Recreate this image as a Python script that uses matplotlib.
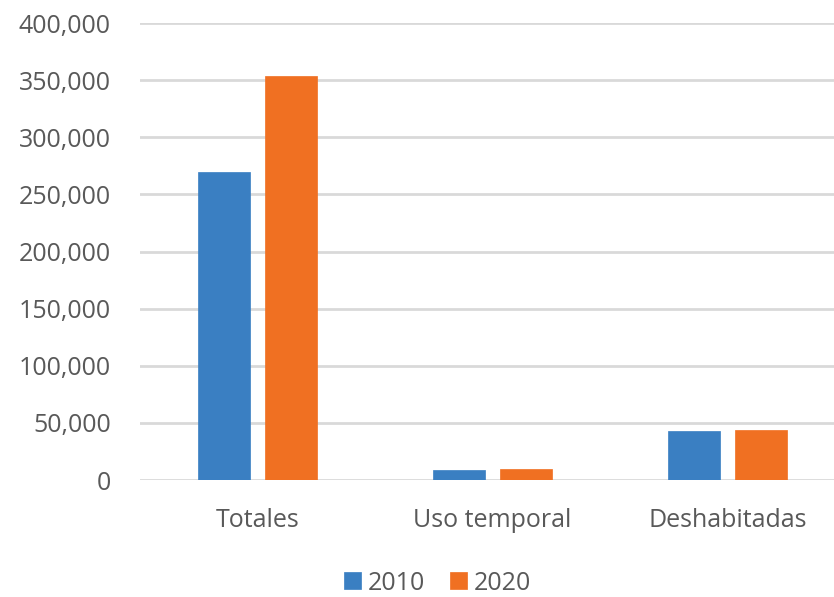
import matplotlib
matplotlib.use("Agg")
import matplotlib.pyplot as plt
import numpy as np
from matplotlib.ticker import FuncFormatter

categories = ["Totales", "Uso temporal", "Deshabitadas"]
series_names = ["2010", "2020"]
values_2010 = [269600, 8500, 42900]
values_2020 = [353800, 10000, 43800]
colors = ["#3A7FC2", "#F07022"]

plt.rcParams['font.family'] = ['Open Sans', 'DejaVu Sans']
fig = plt.figure(figsize=(8.34, 5.97), dpi=100)
ax = fig.add_axes([140/834, 1-480/597, 1-140/834, (480-23)/597])

x = np.arange(len(categories))
w = 0.22
off = 0.143
for vals, name, c, o in [(values_2010, series_names[0], colors[0], -off),
                         (values_2020, series_names[1], colors[1], off)]:
    ax.bar(x + o, vals, width=w, color=c, label=name, edgecolor=c, linewidth=0.5, zorder=3)

ax.set_ylim(0, 400000)
ax.set_xlim(-0.5, (834-140)/235 - 0.5)
ax.set_yticks(np.arange(0, 400001, 50000))
ax.yaxis.set_major_formatter(FuncFormatter(lambda v, p: f"{int(v):,}"))
ax.set_xticks(x)
ax.set_xticklabels(categories)
ax.grid(axis='y', color='#D9D9D9', linewidth=2, zorder=0)
for s in ax.spines.values():
    s.set_visible(False)
ax.tick_params(axis='y', length=0, pad=21, labelsize=18, labelcolor='#595959')
ax.tick_params(axis='x', length=0, pad=20, labelsize=18, labelcolor='#595959')

leg = fig.legend(loc='center', bbox_to_anchor=(438/834, 1-583/597), ncol=2, frameon=False,
                 fontsize=18, handlelength=0.65, handleheight=0.65, handletextpad=0.3,
                 columnspacing=1.0, labelcolor='#595959')
fig.savefig("out.png", dpi=100)
